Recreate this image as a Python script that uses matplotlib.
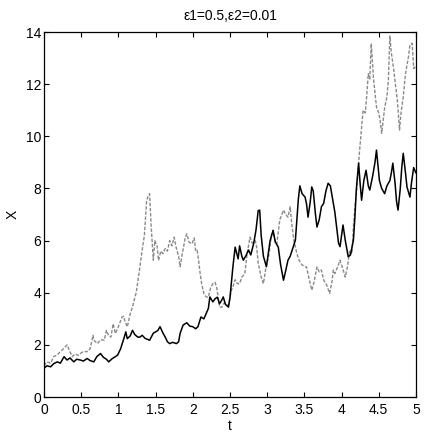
import matplotlib
matplotlib.use("Agg")
import matplotlib.pyplot as plt

# path 1 (solid black)
t1 = [0.00, 0.04, 0.09, 0.13, 0.18, 0.22, 0.27, 0.31, 0.35, 0.40, 0.44, 0.49, 0.53, 0.58,
      0.62, 0.67, 0.71, 0.76, 0.80, 0.84, 0.87, 0.92, 0.96, 0.99, 1.03, 1.08, 1.10, 1.12,
      1.16, 1.19, 1.22, 1.26, 1.29, 1.32, 1.36, 1.42, 1.47, 1.53, 1.56, 1.60, 1.63, 1.66,
      1.69, 1.73, 1.78, 1.81, 1.83, 1.87, 1.92, 1.96, 2.00, 2.04, 2.07, 2.11, 2.15, 2.18,
      2.21, 2.23, 2.27, 2.30, 2.33, 2.36, 2.39, 2.41, 2.44, 2.48, 2.50, 2.52, 2.54, 2.57,
      2.61, 2.63, 2.66, 2.68, 2.72, 2.75, 2.78, 2.82, 2.85, 2.88, 2.90, 2.92, 2.95, 2.99,
      3.02, 3.04, 3.08, 3.11, 3.15, 3.18, 3.22, 3.25, 3.28, 3.31, 3.35, 3.38, 3.40, 3.42,
      3.44, 3.47, 3.51, 3.53, 3.55, 3.58, 3.60, 3.62, 3.65, 3.67, 3.70, 3.73, 3.76, 3.79,
      3.82, 3.85, 3.88, 3.91, 3.94, 3.96, 3.98, 4.02, 4.05, 4.09, 4.12, 4.16, 4.18, 4.20,
      4.23, 4.25, 4.27, 4.30, 4.33, 4.36, 4.38, 4.42, 4.45, 4.47, 4.49, 4.51, 4.54, 4.58,
      4.61, 4.65, 4.67, 4.69, 4.72, 4.74, 4.76, 4.79, 4.81, 4.83, 4.86, 4.88, 4.92, 4.94,
      4.97, 5.00]
x1 = [1.10, 1.20, 1.16, 1.28, 1.35, 1.30, 1.55, 1.42, 1.50, 1.35, 1.45, 1.42, 1.38, 1.48,
      1.40, 1.35, 1.55, 1.67, 1.52, 1.45, 1.35, 1.48, 1.55, 1.61, 1.85, 2.30, 2.50, 2.24,
      2.35, 2.56, 2.40, 2.30, 2.30, 2.37, 2.25, 2.18, 2.45, 2.55, 2.70, 2.45, 2.30, 2.12,
      2.05, 2.10, 2.05, 2.12, 2.44, 2.76, 2.85, 2.72, 2.70, 2.62, 2.70, 3.07, 3.00, 3.20,
      3.40, 3.84, 3.65, 3.77, 3.83, 3.58, 3.72, 3.84, 3.55, 3.45, 3.80, 4.40, 5.00, 5.75,
      5.30, 5.80, 5.40, 5.25, 5.45, 5.64, 5.45, 5.90, 6.40, 7.15, 7.17, 6.20, 5.40, 5.00,
      5.60, 6.00, 6.39, 5.95, 5.75, 5.10, 4.48, 4.85, 5.25, 5.40, 5.75, 6.02, 6.80, 7.60,
      8.10, 7.80, 7.67, 7.40, 6.90, 7.50, 8.06, 7.90, 7.00, 6.52, 6.80, 7.30, 7.43, 7.90,
      8.20, 8.10, 7.60, 7.10, 6.40, 5.90, 5.77, 6.60, 6.02, 5.38, 5.45, 6.02, 6.90, 8.00,
      8.97, 8.20, 7.55, 8.30, 8.70, 8.10, 7.94, 8.50, 9.00, 9.47, 8.90, 8.30, 8.00, 7.80,
      8.10, 8.30, 8.60, 8.97, 8.20, 7.50, 7.17, 8.00, 8.80, 9.35, 8.60, 8.06, 7.67, 8.20,
      8.80, 8.60]

# path 2 (grey dashed)
t2 = [0.00, 0.04, 0.09, 0.13, 0.17, 0.22, 0.26, 0.31, 0.34, 0.38, 0.42, 0.46, 0.49, 0.53,
      0.58, 0.62, 0.66, 0.67, 0.72, 0.76, 0.81, 0.84, 0.87, 0.90, 0.93, 0.96, 1.00, 1.05,
      1.07, 1.09, 1.12, 1.16, 1.19, 1.22, 1.24, 1.26, 1.29, 1.32, 1.35, 1.38, 1.40, 1.42,
      1.44, 1.45, 1.47, 1.49, 1.52, 1.54, 1.57, 1.60, 1.63, 1.66, 1.69, 1.72, 1.75, 1.78,
      1.81, 1.83, 1.86, 1.90, 1.92, 1.95, 1.99, 2.02, 2.04, 2.06, 2.08, 2.10, 2.12, 2.15,
      2.18, 2.21, 2.24, 2.27, 2.30, 2.32, 2.35, 2.36, 2.39, 2.42, 2.45, 2.48, 2.52, 2.54,
      2.57, 2.60, 2.63, 2.66, 2.70, 2.73, 2.77, 2.80, 2.84, 2.86, 2.88, 2.92, 2.95, 2.98,
      3.02, 3.06, 3.08, 3.11, 3.13, 3.17, 3.22, 3.25, 3.28, 3.31, 3.33, 3.36, 3.40, 3.43,
      3.46, 3.50, 3.53, 3.56, 3.60, 3.63, 3.67, 3.70, 3.73, 3.76, 3.80, 3.84, 3.87, 3.89,
      3.91, 3.95, 3.98, 4.02, 4.05, 4.08, 4.11, 4.14, 4.16, 4.18, 4.20, 4.22, 4.24, 4.27,
      4.29, 4.32, 4.34, 4.36, 4.38, 4.40, 4.41, 4.43, 4.45, 4.47, 4.50, 4.52, 4.54, 4.56,
      4.58, 4.61, 4.63, 4.65, 4.67, 4.70, 4.72, 4.75, 4.78, 4.80, 4.83, 4.86, 4.90, 4.92,
      4.95, 4.97, 5.00]
x2 = [1.20, 1.35, 1.30, 1.55, 1.60, 1.74, 1.85, 2.00, 1.80, 1.55, 1.65, 1.60, 1.67, 1.75,
      1.74, 1.85, 2.37, 2.18, 2.05, 2.20, 2.18, 2.56, 2.35, 2.30, 2.81, 2.44, 2.70, 3.07,
      3.10, 2.90, 2.69, 3.20, 3.45, 3.81, 4.00, 4.40, 5.00, 5.64, 6.20, 7.54, 7.70, 7.80,
      6.60, 6.14, 5.25, 6.00, 5.80, 5.24, 5.60, 5.50, 5.70, 5.60, 6.00, 5.80, 6.13, 5.70,
      5.40, 5.00, 5.50, 6.13, 6.26, 5.94, 5.88, 6.10, 5.60, 5.63, 5.20, 4.73, 4.35, 3.96,
      3.84, 3.83, 4.20, 4.35, 4.40, 4.22, 3.70, 3.45, 3.45, 3.60, 3.58, 3.52, 4.10, 4.23,
      4.50, 4.35, 4.35, 4.60, 4.74, 5.49, 6.13, 5.90, 6.00, 5.74, 5.13, 4.60, 4.35, 4.90,
      5.38, 6.25, 6.40, 5.90, 5.87, 6.80, 7.17, 7.00, 6.90, 7.30, 6.67, 6.00, 5.50, 5.25,
      5.10, 5.00, 4.99, 4.60, 4.10, 4.40, 4.99, 4.80, 4.87, 4.49, 4.30, 3.98, 4.40, 4.87,
      4.74, 5.00, 5.25, 4.90, 4.60, 5.00, 5.64, 5.50, 6.52, 7.30, 7.82, 8.60, 9.35, 10.37,
      11.00, 10.90, 11.60, 12.40, 12.20, 13.56, 13.10, 12.20, 11.65, 11.13, 10.90, 10.60, 10.12, 10.60,
      11.10, 11.50, 12.16, 13.85, 13.20, 12.60, 12.10, 11.40, 10.24, 10.90, 11.52, 12.40, 13.05, 13.50,
      13.57, 12.60, 12.70]

xticks = [0, 0.5, 1, 1.5, 2, 2.5, 3, 3.5, 4, 4.5, 5]
xticklabels = ["0", "0.5", "1", "1.5", "2", "2.5", "3", "3.5", "4", "4.5", "5"]
yticks = [0, 2, 4, 6, 8, 10, 12, 14]

plt.rcParams["font.family"] = ["Liberation Sans Narrow", "Liberation Sans", "DejaVu Sans"]

fig = plt.figure(figsize=(4.27, 4.33), dpi=100)
ax = fig.add_axes([0.103, 0.083, 0.871, 0.843])

ax.plot(t2, x2, color="#8a8a8a", lw=1.0, linestyle=(0, (2.5, 1.2)))
ax.plot(t1, x1, color="black", lw=1.1)

ax.set_xlim(0, 5)
ax.set_ylim(0, 14)
ax.set_xticks(xticks)
ax.set_xticklabels(xticklabels)
ax.set_yticks(yticks)
ax.tick_params(direction="in", top=True, right=True, length=3.5, width=0.8,
               labelsize=10, pad=2)
ax.tick_params(axis="x", pad=4)
for s in ax.spines.values():
    s.set_linewidth(0.9)

ax.set_title("ε1=0.5,ε2=0.01", fontsize=10, pad=9)
ax.set_xlabel("t", fontsize=10, labelpad=2)
ax.set_ylabel("X", fontsize=10, labelpad=4)

fig.savefig("out.png", dpi=100)
